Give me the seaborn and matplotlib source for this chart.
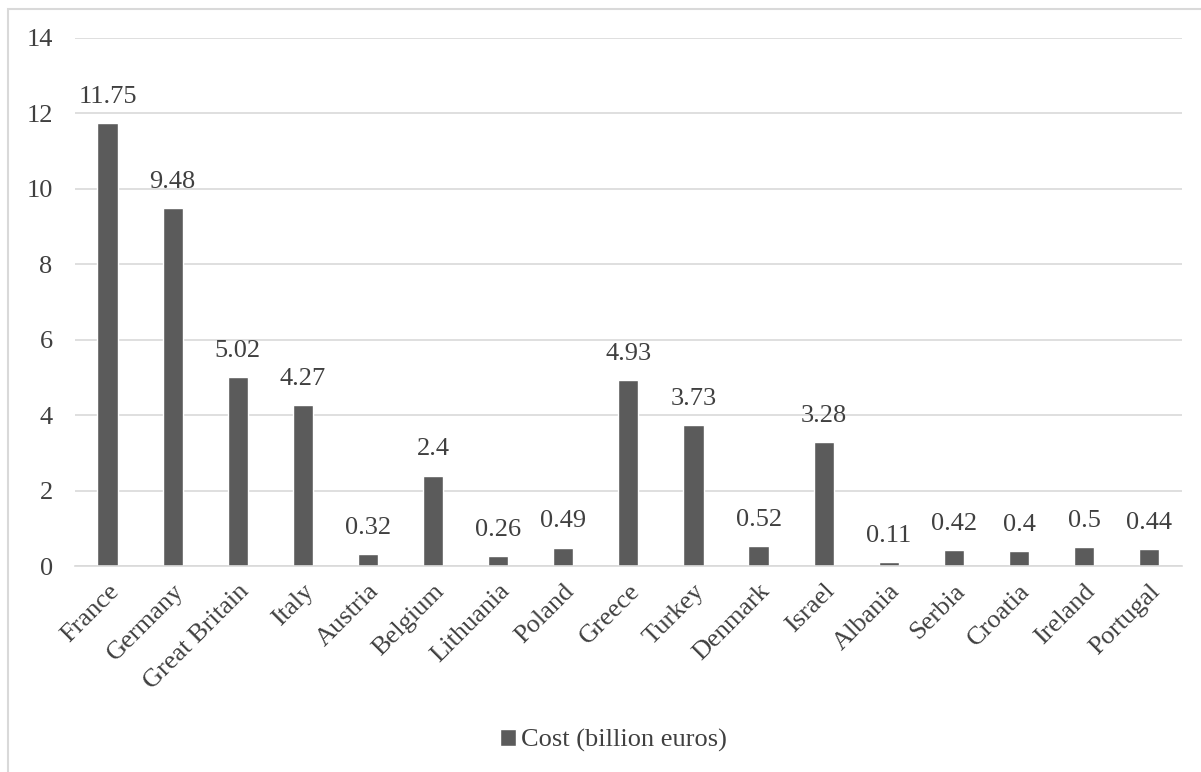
import pandas as pd
import numpy as np
import matplotlib
matplotlib.use("Agg")
import matplotlib.pyplot as plt
import seaborn as sns
from matplotlib.patches import Rectangle

# -----------------------------
# Data
# -----------------------------
countries = ["France", "Germany", "Great Britain", "Italy", "Austria", "Belgium",
             "Lithuania", "Poland", "Greece", "Turkey", "Denmark", "Israel",
             "Albania", "Serbia", "Croatia", "Ireland", "Portugal"]
cost = [11.75, 9.48, 5.02, 4.27, 0.32, 2.4, 0.26, 0.49, 4.93, 3.73, 0.52, 3.28,
        0.11, 0.42, 0.4, 0.5, 0.44]
labels = ["11.75", "9.48", "5.02", "4.27", "0.32", "2.4", "0.26", "0.49", "4.93",
          "3.73", "0.52", "3.28", "0.11", "0.42", "0.4", "0.5", "0.44"]

df = pd.DataFrame({"Country": countries, "Cost": cost})

# -----------------------------
# Style
# -----------------------------
sns.set_style("white")
plt.rcParams["font.family"] = ["Liberation Serif", "DejaVu Serif"]
text_col = "#404040"
bar_col = "#5b5b5b"
fs = 19

fig = plt.figure(figsize=(12.01, 7.72), dpi=100)
ax = fig.add_axes([0.0624, 0.2668, 0.9216, 0.684])

sns.barplot(data=df, x="Country", y="Cost", color=bar_col, width=0.31,
            saturation=1, ax=ax, label="Cost (billion euros)")

for i, (v, t) in enumerate(zip(cost, labels)):
    ax.text(i, v + 0.4, t, ha="center", va="bottom", fontsize=fs, color=text_col)

ax.set_ylim(0, 14)
ax.set_yticks(np.arange(0, 15, 2))
ax.set_xlim(-0.5, len(countries) - 0.5)
ax.grid(axis="y", color="#d9d9d9", linewidth=1.2)
ax.set_axisbelow(True)
for s in ["top", "right", "left"]:
    ax.spines[s].set_visible(False)
ax.spines["bottom"].set_color("#d9d9d9")
ax.spines["bottom"].set_linewidth(1.2)

ax.set_xlabel("")
ax.set_ylabel("")
ax.tick_params(axis="both", length=0, labelsize=fs, colors=text_col)
ax.tick_params(axis="y", pad=16)
ax.tick_params(axis="x", pad=10)
plt.setp(ax.get_xticklabels(), rotation=45, ha="right", rotation_mode="anchor")

leg = ax.legend(loc="center", bbox_to_anchor=(0.511, 0.041),
                bbox_transform=fig.transFigure, frameon=False, fontsize=fs,
                handlelength=0.6, handleheight=0.6, handletextpad=0.2)
for t in leg.get_texts():
    t.set_color(text_col)

# figure border
fig.patches.append(Rectangle((0.007, -0.02), 1.1, 1.008, transform=fig.transFigure,
                             fill=False, edgecolor="#d9d9d9", linewidth=1.5))

fig.savefig("out.png", dpi=100)
